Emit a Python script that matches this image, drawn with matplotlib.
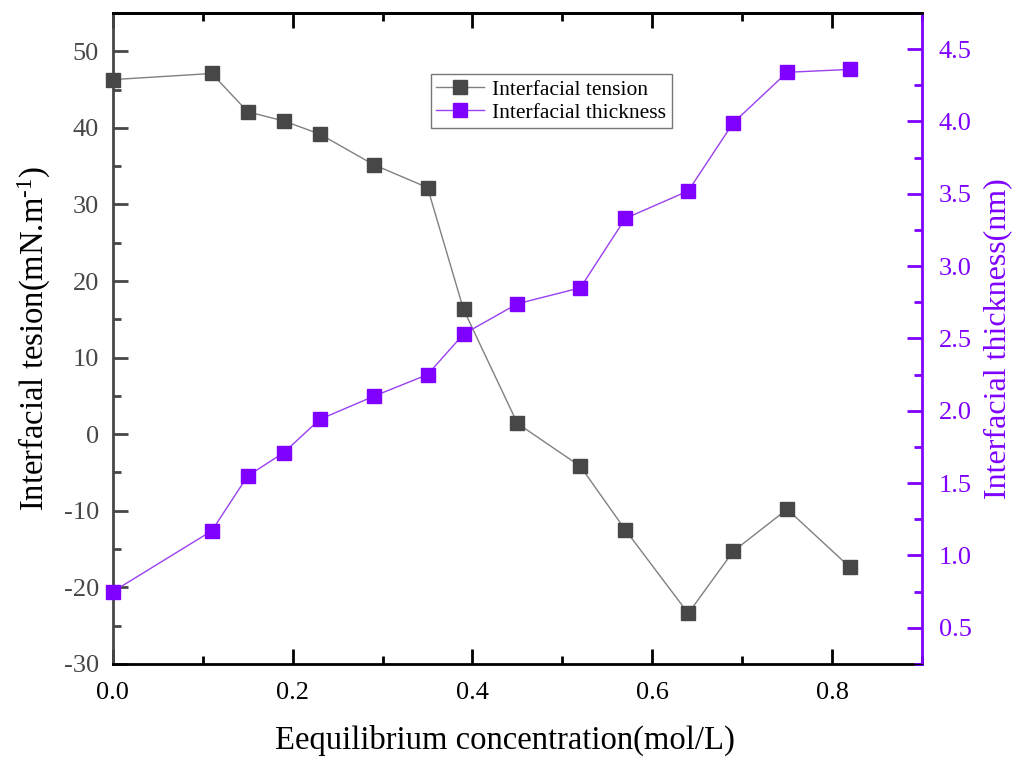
import matplotlib
matplotlib.use("Agg")
import matplotlib.pyplot as plt
from matplotlib.ticker import MultipleLocator

plt.rcParams["font.family"] = ["Liberation Serif", "DejaVu Serif"]
plt.rcParams["mathtext.fontset"] = "custom"
plt.rcParams["mathtext.rm"] = "Liberation Serif"
plt.rcParams["mathtext.it"] = "Liberation Serif:italic"
plt.rcParams["axes.unicode_minus"] = False

# data
conc = [0.0, 0.11, 0.15, 0.19, 0.23, 0.29, 0.35, 0.39, 0.45, 0.52, 0.57, 0.64, 0.69, 0.75, 0.82]
tension = [46.3, 47.1, 42.1, 40.9, 39.2, 35.2, 32.2, 16.3, 1.4, -4.2, -12.5, -23.4, -15.3, -9.8, -17.4]
thickness = [0.75, 1.17, 1.55, 1.71, 1.94, 2.10, 2.25, 2.53, 2.74, 2.85, 3.33, 3.52, 3.99, 4.34, 4.36]

GREY = "#474747"
PURPLE = "#7F00FF"

fig = plt.figure(figsize=(10.17, 7.64), dpi=100)
ax = fig.add_axes([0.111, 0.131, 0.7956, 0.852])
ax2 = ax.twinx()

l1, = ax.plot(conc, tension, color="#808080", lw=1.0, marker="s", ms=9.5,
              mfc=GREY, mec=GREY, label="Interfacial tension", clip_on=False, zorder=3)
l2, = ax2.plot(conc, thickness, color="#9940F0", lw=1.0, marker="s", ms=9.5,
               mfc=PURPLE, mec=PURPLE, label="Interfacial thickness", clip_on=False, zorder=3)

ax.set_xlim(0, 0.9)
ax.set_ylim(-30, 55)
ax2.set_ylim(0.25, 4.75)

ax.xaxis.set_major_locator(MultipleLocator(0.2))
ax.xaxis.set_minor_locator(MultipleLocator(0.1))
ax.yaxis.set_major_locator(MultipleLocator(10))
ax.yaxis.set_minor_locator(MultipleLocator(5))
ax2.yaxis.set_major_locator(MultipleLocator(0.5))
ax2.yaxis.set_minor_locator(MultipleLocator(0.25))
ax.xaxis.set_major_formatter(plt.FuncFormatter(lambda v, p: f"{v:.1f}"))
ax2.yaxis.set_major_formatter(plt.FuncFormatter(lambda v, p: f"{v:.1f}"))

ax.tick_params(axis="x", which="both", direction="in", top=True, labelsize=19,
               colors="black", pad=13)
ax.tick_params(axis="x", which="major", length=11, width=2)
ax.tick_params(axis="x", which="minor", length=6, width=2)
ax.tick_params(axis="y", which="both", direction="in", labelsize=19,
               colors=GREY, labelcolor=GREY, pad=10)
ax.tick_params(axis="y", which="major", length=11, width=2)
ax.tick_params(axis="y", which="minor", length=6, width=2)
ax2.tick_params(axis="y", which="both", direction="in", labelsize=19,
                colors=PURPLE, labelcolor=PURPLE, pad=12)
ax2.tick_params(axis="y", which="major", length=11, width=2)
ax2.tick_params(axis="y", which="minor", length=6, width=2)

for sp in ax.spines.values():
    sp.set_linewidth(2)
ax.spines["left"].set_color(GREY)
ax2.spines["left"].set_visible(False)
ax2.spines["right"].set_color(PURPLE)
ax2.spines["right"].set_linewidth(2)
ax2.spines["top"].set_linewidth(2)
ax.spines["right"].set_visible(False)

ax.set_xlabel("Eequilibrium concentration(mol/L)", fontsize=23.5)
ax.xaxis.set_label_coords(0.485, -0.094)
ax.set_ylabel("Interfacial tesion(mN.m$^{\\text{-1}}$)", fontsize=23.5, labelpad=8)
ax2.set_ylabel("Interfacial thickness(nm)", fontsize=23, color=PURPLE, labelpad=8)

leg = ax.legend([l1, l2], ["Interfacial tension", "Interfacial thickness"],
                loc="upper left", bbox_to_anchor=(0.393, 0.906), fontsize=15.5,
                frameon=True, fancybox=False, edgecolor="#555555",
                handlelength=2.2, borderpad=0.25, labelspacing=0.15,
                handletextpad=0.4, borderaxespad=0)
leg.get_frame().set_linewidth(1.0)

fig.savefig("out.png", dpi=100)
